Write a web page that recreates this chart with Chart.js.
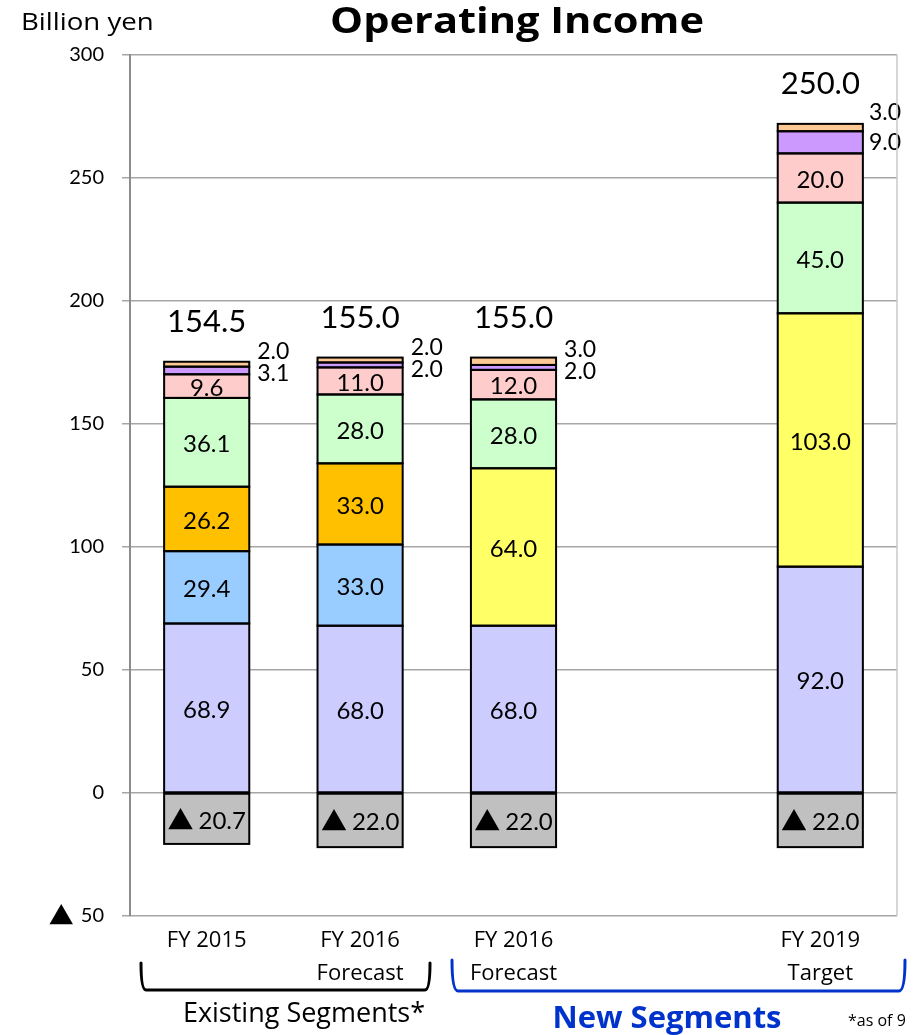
<!DOCTYPE html>
<html>
<head>
<meta charset="utf-8">
<script src="https://cdn.jsdelivr.net/npm/chart.js@4.4.0/dist/chart.umd.min.js"></script>
<style>
  html, body { margin: 0; padding: 0; background: #fff; }
  #wrap { width: 915px; height: 1035px; position: relative; }
</style>
</head>
<body>
<div id="wrap"><canvas id="c" width="915" height="1035"></canvas></div>
<script>
// ---- data ----
const categories = [['FY 2015'], ['FY 2016', 'Forecast'], ['FY 2016', 'Forecast'], [''], ['FY 2019', 'Target']];
const yTickValues = [-50, 0, 50, 100, 150, 200, 250, 300];
const corporateOther = [-20.7, -22.0, -22.0, null, -22.0];
const segmentA = [68.9, 68.0, 68.0, null, 92.0];
const segmentB = [29.4, 33.0, null, null, null];
const segmentC = [26.2, 33.0, null, null, null];
const segmentNew = [null, null, 64.0, null, 103.0];
const segmentD = [36.1, 28.0, 28.0, null, 45.0];
const segmentE = [9.6, 11.0, 12.0, null, 20.0];
const segmentF = [3.1, 2.0, 2.0, null, 9.0];
const segmentG = [2.0, 2.0, 3.0, null, 3.0];
const totals = [154.5, 155.0, 155.0, null, 250.0];

const NUMFONT = 'Lato, "Noto Sans", sans-serif';
const TXTFONT = '"Open Sans", "Noto Sans", sans-serif';
const TRIFONT = '"Noto Sans CJK JP", "DejaVu Sans", sans-serif';
const TRI = '\u25B2';

// draws "▲ n" with a big triangle, centred at x
function drawNeg(ctx, num, x, y, size) {
  ctx.font = size + 'px ' + NUMFONT;
  const wn = ctx.measureText(num).width;
  ctx.font = (size + 2) + 'px ' + TRIFONT;
  const wt = ctx.measureText(TRI).width;
  const gap = 5;
  const total = wt + gap + wn;
  const left = x - total / 2;
  ctx.textAlign = 'left';
  ctx.fillText(TRI, left, y - 1);
  ctx.font = size + 'px ' + NUMFONT;
  ctx.fillText(num, left + wt + gap, y);
}

// text stretched horizontally around its anchor
function stretchText(ctx, txt, x, y, sx, align) {
  ctx.save();
  ctx.translate(x, y);
  ctx.scale(sx, 1);
  ctx.textAlign = align;
  ctx.fillText(txt, 0, 0);
  ctx.restore();
}

const labelPlugin = {
  id: 'customLabels',
  afterDatasetsDraw(chart) {
    const ctx = chart.ctx;
    const ds = chart.data.datasets;
    ctx.save();
    // bar outlines, stroked centred on the edges
    ctx.strokeStyle = '#000';
    ctx.lineWidth = 2;
    for (let d = 0; d < ds.length; d++) {
      const meta = chart.getDatasetMeta(d);
      ds[d].data.forEach((v, i) => {
        if (v === null || v === undefined) return;
        const el = meta.data[i];
        const top = Math.min(el.y, el.base), h = Math.abs(el.base - el.y);
        ctx.strokeRect(el.x - el.width / 2, top, el.width, h);
      });
    }
    ctx.fillStyle = '#000';
    ctx.textBaseline = 'middle';
    // inside labels (datasets 0..6)
    for (let d = 0; d <= 6; d++) {
      const meta = chart.getDatasetMeta(d);
      ds[d].data.forEach((v, i) => {
        if (v === null || v === undefined) return;
        const el = meta.data[i];
        const cy = (el.y + el.base) / 2 + 2;
        if (v < 0) {
          drawNeg(ctx, (-v).toFixed(1), el.x, cy, 24);
        } else {
          ctx.font = '24px ' + NUMFONT;
          ctx.textAlign = 'center';
          ctx.fillText(v.toFixed(1), el.x, cy);
        }
      });
    }
    // outside labels for small top segments
    const metaF = chart.getDatasetMeta(7);
    const metaG = chart.getDatasetMeta(8);
    ctx.font = '23px ' + NUMFONT;
    ctx.textAlign = 'left';
    ds[7].data.forEach((v, i) => {
      if (v === null) return;
      const el = metaF.data[i];
      const hF = Math.abs(el.base - el.y);
      const yF = (el.y + el.base) / 2 + Math.max(0, 7 - hF / 2);
      const tF = v.toFixed(1);
      const xF = Math.min(el.x + el.width / 2 + 8, 901 - ctx.measureText(tF).width);
      ctx.fillText(tF, xF, yF);
      const g = ds[8].data[i];
      if (g !== null) {
        const elG = metaG.data[i];
        const tG = g.toFixed(1);
        const xG = Math.min(elG.x + elG.width / 2 + 8, 901 - ctx.measureText(tG).width);
        ctx.fillText(tG, xG, yF - Math.max(22, hF + 8));
      }
    });
    // totals
    ctx.font = '31px ' + NUMFONT;
    ctx.textAlign = 'center';
    totals.forEach((t, i) => {
      if (t === null) return;
      const elG = metaG.data[i];
      ctx.fillText(t.toFixed(1), elG.x, elG.y - 40);
    });
    ctx.restore();
  },
  afterDraw(chart) {
    const ctx = chart.ctx;
    const a = chart.chartArea;
    const ys = chart.scales.y;
    ctx.save();
    // right border
    ctx.strokeStyle = '#C8C8C8';
    ctx.lineWidth = 1.5;
    ctx.beginPath();
    ctx.moveTo(a.right, a.top);
    ctx.lineTo(a.right, a.bottom);
    ctx.stroke();
    ctx.fillStyle = '#000';
    ctx.textBaseline = 'middle';
    // triangle sign for the negative tick
    ctx.font = '20px ' + NUMFONT;
    const w50 = ctx.measureText('50').width;
    ctx.font = '25px ' + TRIFONT;
    ctx.textAlign = 'right';
    ctx.fillText(TRI, 104 - w50 - 7, ys.getPixelForValue(-50) - 1);
    // title and unit
    ctx.font = 'bold 36px ' + TXTFONT;
    stretchText(ctx, 'Operating Income', 517, 23, 1.155, 'center');
    ctx.font = '24px ' + TXTFONT;
    stretchText(ctx, 'Billion yen', 21, 23, 1.15, 'left');
    // brackets
    ctx.lineJoin = 'round';
    ctx.lineCap = 'round';
    ctx.lineWidth = 3;
    ctx.strokeStyle = '#000';
    ctx.beginPath();
    ctx.moveTo(141, 963);
    ctx.quadraticCurveTo(141, 990, 146, 990);
    ctx.lineTo(425, 990);
    ctx.quadraticCurveTo(430, 990, 430, 963);
    ctx.stroke();
    ctx.strokeStyle = '#0033CC';
    ctx.beginPath();
    ctx.moveTo(452, 960);
    ctx.quadraticCurveTo(452, 991, 458, 991);
    ctx.lineTo(899, 991);
    ctx.quadraticCurveTo(905, 991, 905, 960);
    ctx.stroke();
    // group captions
    ctx.textAlign = 'center';
    ctx.fillStyle = '#000';
    ctx.font = '27px ' + TXTFONT;
    ctx.fillText('Existing Segments*', 304, 1014);
    ctx.fillStyle = '#0033CC';
    ctx.font = 'bold 31px ' + TXTFONT;
    ctx.fillText('New Segments', 667, 1019);
    ctx.fillStyle = '#000';
    ctx.textAlign = 'left';
    ctx.font = '16px ' + TXTFONT;
    ctx.fillText('*as of 9', 848, 1021);
    ctx.restore();
  }
};

function mk(label, data, color) {
  return {
    label, data, backgroundColor: color,
    borderWidth: 0, inflateAmount: 0,
    stack: 's', categoryPercentage: 1.0, barPercentage: 0.555
  };
}

new Chart(document.getElementById('c'), {
  type: 'bar',
  data: {
    labels: categories,
    datasets: [
      mk('Corporate / Other', corporateOther, '#C0C0C0'),
      mk('Segment A', segmentA, '#CCCCFF'),
      mk('Segment B', segmentB, '#99CCFF'),
      mk('Segment C', segmentC, '#FFC000'),
      mk('New Segment', segmentNew, '#FFFF66'),
      mk('Segment D', segmentD, '#CCFFCC'),
      mk('Segment E', segmentE, '#FFCCCC'),
      mk('Segment F', segmentF, '#CC99FF'),
      mk('Segment G', segmentG, '#FCC894')
    ]
  },
  options: {
    responsive: false,
    animation: false,
    devicePixelRatio: 1,
    layout: { padding: { top: 55, right: 18, left: 0, bottom: 0 } },
    plugins: { legend: { display: false }, tooltip: { enabled: false }, title: { display: false } },
    scales: {
      x: {
        stacked: true,
        grid: { display: false, drawTicks: false },
        border: { display: false },
        ticks: {
          color: '#000', font: { family: TXTFONT, size: 22, lineHeight: 1.5 },
          padding: 8, autoSkip: false, maxRotation: 0, minRotation: 0
        },
        afterFit(scale) { scale.height = 1035 - 916; }
      },
      y: {
        stacked: true,
        min: -50, max: 300,
        afterBuildTicks(scale) { scale.ticks = yTickValues.map(v => ({ value: v })); },
        grid: { color: '#A6A6A6', lineWidth: 1.5, tickLength: 8, drawTicks: true },
        border: { color: '#8C8C8C', width: 2 },
        ticks: {
          color: '#000', font: { family: NUMFONT, size: 20 }, padding: 18,
          callback: v => String(Math.abs(v))
        },
        afterFit(scale) { scale.width = 130; }
      }
    }
  },
  plugins: [labelPlugin]
});
</script>
</body>
</html>
